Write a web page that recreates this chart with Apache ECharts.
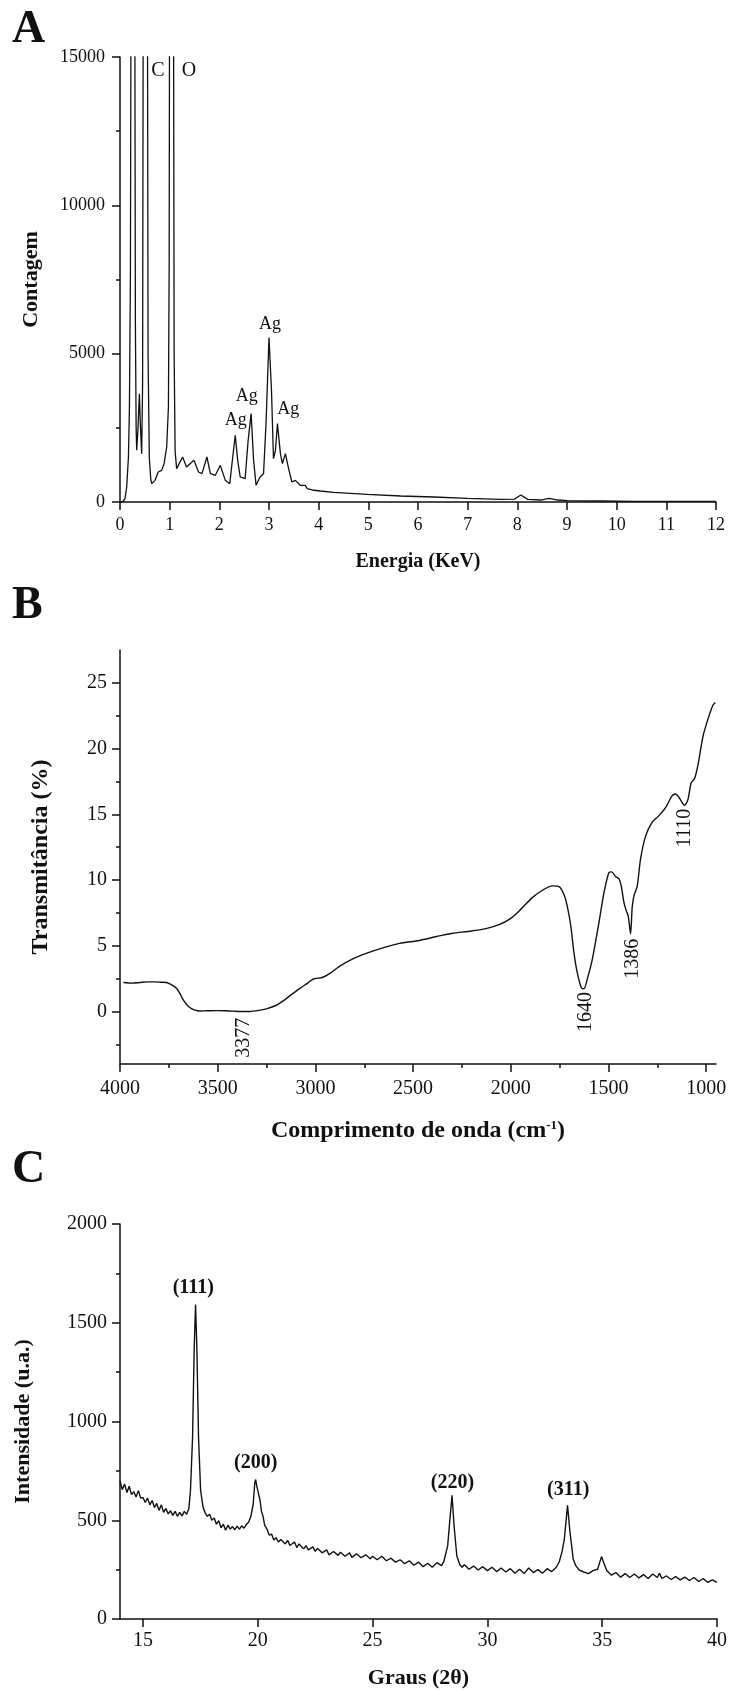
<!DOCTYPE html>
<html>
<head>
<meta charset="utf-8">
<script src="https://cdn.jsdelivr.net/npm/echarts@6/dist/echarts.min.js"></script>
<style>
html, body { margin: 0; padding: 0; background: #fff; }
#chart { width: 731px; height: 1690px; }
</style>
</head>
<body>
<div id="chart"></div>
<script>
// ---- A: EDS spectrum (keV / counts) ----
const edsEnergy = [0, 0.05, 0.1, 0.135, 0.17, 0.19, 0.21, 0.225, 0.26, 0.295, 0.31, 0.325, 0.336, 0.36, 0.39, 0.41, 0.437,
    0.455, 0.47, 0.51, 0.55, 0.565, 0.59, 0.62, 0.64, 0.706, 0.77, 0.84, 0.888, 0.94, 0.975, 0.99, 1.0, 1.035, 1.075,
    1.09, 1.11, 1.14, 1.18, 1.26, 1.34, 1.41, 1.49, 1.58, 1.65, 1.75, 1.82, 1.92, 2.02, 2.12, 2.21, 2.27, 2.32, 2.37,
    2.42, 2.52, 2.58, 2.64, 2.69, 2.74, 2.82, 2.89, 2.94, 3.0, 3.05, 3.09, 3.13, 3.17, 3.23, 3.27, 3.33, 3.38, 3.46,
    3.53, 3.63, 3.73, 3.77, 3.87, 4.03, 4.3, 4.98, 5.65, 6.32, 7.0, 7.67, 7.94, 8.07, 8.21, 8.47, 8.64, 8.81, 9.01,
    9.68, 10.36, 11.03, 12.0];
const edsCounts = [0, 0, 110, 505, 1517, 3200, 7700, 20000, 40000, 20000, 6000, 2500, 1742, 2400, 3650, 2600, 1630,
    4000, 20000, 40000, 20000, 5000, 1500, 750, 618, 730, 1011, 1067, 1292, 1854, 3200, 8000, 20000, 40000, 20000,
    5000, 1700, 1124, 1067, 1517, 1180, 1292, 1405, 1011, 955, 1517, 955, 899, 1236, 730, 618, 1517, 2247, 1405,
    843, 787, 2079, 2978, 1405, 562, 843, 955, 2641, 5540, 3764, 1461, 1742, 2641, 1630, 1292, 1630, 1236, 674,
    730, 563, 563, 450, 405, 371, 327, 260, 202, 169, 124, 90, 98, 236, 90, 67, 124, 67, 45,
    34, 22, 22, 20];
const edsElementNotes = [[0.765, 14530, 'C'], [1.39, 14530, 'O']];
const edsAgNotes = [[2.33, 2764, 'Ag'], [2.55, 3573, 'Ag'], [3.02, 6000, 'Ag'], [3.39, 3135, 'Ag']];

// ---- B: FTIR (cm-1 / %T) ----
const irWavenumber = [3983, 3940, 3898, 3860, 3821, 3790, 3762, 3745, 3727, 3710, 3693, 3677, 3660, 3643, 3620, 3591,
    3550, 3500, 3464, 3420, 3377, 3336, 3290, 3251, 3200, 3165, 3132, 3081, 3040, 3013, 2962, 2928, 2877, 2809, 2740,
    2655, 2570, 2468, 2380, 2298, 2210, 2127, 2060, 2008, 1957, 1890, 1838, 1787, 1753, 1728, 1711, 1693, 1677, 1660,
    1639, 1626, 1609, 1583, 1549, 1523, 1498, 1484, 1464, 1447, 1435, 1421, 1409, 1399, 1387, 1379, 1370, 1353, 1336,
    1310, 1277, 1242, 1208, 1175, 1157, 1140, 1128, 1111, 1094, 1077, 1060, 1043, 1017, 992, 966, 953];
const irTransmittance = [2.2, 2.15, 2.2, 2.25, 2.25, 2.22, 2.2, 2.1, 1.95, 1.75, 1.35, 0.9, 0.55, 0.3, 0.12, 0.03,
    0.05, 0.06, 0.05, 0.02, 0.0, 0.0, 0.08, 0.2, 0.47, 0.8, 1.18, 1.74, 2.15, 2.45, 2.6, 2.87, 3.43, 4.0, 4.42,
    4.84, 5.18, 5.4, 5.7, 5.95, 6.1, 6.3, 6.6, 7.0, 7.65, 8.66, 9.22, 9.55, 9.5, 8.9, 8.0, 6.5, 4.47, 2.95,
    1.8, 1.72, 2.44, 3.96, 6.76, 9.05, 10.57, 10.62, 10.27, 10.1, 9.55, 8.28, 7.65, 7.26, 5.9, 7.9, 8.79, 9.55, 11.6,
    13.36, 14.38, 14.9, 15.5, 16.4, 16.54, 16.3, 16.0, 15.68, 16.1, 17.4, 17.7, 18.7, 20.9, 22.2, 23.3, 23.5];
const irNotes = [[3369, -2.0, '3377'], [1617, -0.05, '1640'], [1378, 4.0, '1386'], [1110, 13.95, '1110']];
const irTicks = [1000, 1500, 2000, 2500, 3000, 3500, 4000];
const irMinorTicks = [1250, 1750, 2250, 2750, 3250, 3750];
const irYTicks = [0, 5, 10, 15, 20, 25];
const irYMinorTicks = [-2.5, 2.5, 7.5, 12.5, 17.5, 22.5];

// ---- C: XRD (2theta / intensity) ----
const xrdAngle = [14.0, 14.1, 14.2, 14.3, 14.4, 14.5, 14.6, 14.7, 14.8, 14.9, 15.0, 15.1, 15.2, 15.3, 15.4, 15.5,
    15.6, 15.7, 15.8, 15.9, 16.0, 16.1, 16.2, 16.3, 16.4, 16.5, 16.6, 16.7, 16.8, 16.9, 17.0, 17.07, 17.16, 17.23,
    17.29, 17.35, 17.42, 17.51, 17.62, 17.7, 17.8, 17.9, 18.0, 18.1, 18.2, 18.3, 18.4, 18.5, 18.6, 18.7, 18.8, 18.9,
    19.0, 19.1, 19.2, 19.3, 19.4, 19.5, 19.6, 19.7, 19.8, 19.87, 19.91, 19.96, 20.03, 20.1, 20.16, 20.23, 20.3, 20.4,
    20.5, 20.6, 20.7, 20.8, 20.9, 21.0, 21.2, 21.3, 21.4, 21.6, 21.7, 21.8, 22.0, 22.1, 22.2, 22.4, 22.5, 22.6, 22.8,
    23.0, 23.1, 23.3, 23.5, 23.6, 23.8, 24.0, 24.1, 24.3, 24.5, 24.7, 24.9, 25.0, 25.2, 25.4, 25.6, 25.8, 26.0, 26.2,
    26.4, 26.6, 26.8, 27.0, 27.2, 27.4, 27.6, 27.8, 28.0, 28.1, 28.27, 28.38, 28.46, 28.55, 28.67, 28.8, 28.9, 29.0,
    29.2, 29.4, 29.6, 29.8, 30.0, 30.2, 30.4, 30.6, 30.8, 31.0, 31.2, 31.4, 31.6, 31.8, 32.0, 32.2, 32.4, 32.6, 32.8,
    33.0, 33.13, 33.25, 33.35, 33.49, 33.6, 33.74, 33.85, 34.0, 34.2, 34.4, 34.6, 34.8, 34.97, 35.1, 35.2, 35.4, 35.6,
    35.8, 36.0, 36.2, 36.4, 36.6, 36.8, 37.0, 37.2, 37.4, 37.5, 37.6, 37.8, 38.0, 38.2, 38.4, 38.6, 38.8, 39.0, 39.2,
    39.4, 39.6, 39.8, 40.0];
const xrdIntensity = [700, 655, 684, 640, 672, 630, 645, 618, 650, 612, 615, 590, 612, 578, 600, 565,
    585, 550, 578, 540, 560, 532, 548, 525, 545, 520, 540, 522, 545, 530, 560, 652, 919, 1362,
    1592, 1362, 919, 652, 564, 540, 520, 530, 500, 512, 480, 498, 462, 480, 450, 475, 455, 468,
    452, 470, 455, 472, 460, 478, 490, 520, 581, 690, 706, 672, 670, 600, 546, 520, 475, 455,
    425, 430, 400, 412, 390, 402, 380, 398, 372, 390, 362, 380, 355, 372, 350, 365, 342, 358, 335,
    350, 325, 342, 322, 338, 318, 335, 312, 330, 310, 325, 305, 318, 300, 318, 295, 308, 288, 300,
    280, 295, 272, 288, 265, 282, 262, 285, 270, 290, 370, 521, 626, 471, 319, 275, 262, 275,
    252, 268, 248, 265, 245, 262, 240, 258, 238, 255, 232, 252, 230, 258, 235, 250, 232, 255, 240,
    262, 290, 340, 403, 575, 437, 302, 270, 248, 238, 230, 245, 252, 316, 275, 245, 222, 235,
    212, 230, 210, 228, 208, 225, 205, 228, 210, 232, 205, 218, 200, 215, 198, 212, 195, 210, 190,
    205, 185, 198, 185];
const xrdNotes = [[17.19, 1677, '(111)'], [19.91, 790, '(200)'], [28.48, 687, '(220)'], [33.52, 652, '(311)']];
const xrdTicks = [15, 20, 25, 30, 35, 40];

const FONT = 'Liberation Serif';
const INK = '#111';

const chart = echarts.init(document.getElementById('chart'));

function pairs(xs, ys) {
    return xs.map((x, i) => [x, ys[i]]);
}

function axis(extra) {
    return Object.assign({
        type: 'value',
        axisLine: { onZero: false, lineStyle: { color: INK, width: 1.5 } },
        axisTick: { length: 8, lineStyle: { color: INK, width: 1.5 } },
        minorTick: { show: false, length: 4, lineStyle: { color: INK, width: 1.5 } },
        axisLabel: { color: INK, fontFamily: FONT, fontSize: 20, formatter: v => String(v) },
        splitLine: { show: false },
        nameLocation: 'middle',
        nameTextStyle: { color: INK, fontFamily: FONT, fontWeight: 'bold', fontSize: 22 },
    }, extra);
}

function tickLabels(size, margin, values) {
    const label = { color: INK, fontFamily: FONT, fontSize: size, margin: margin, formatter: v => String(v) };
    if (values) label.customValues = values;
    return label;
}

// overlay axis that only draws short (minor) ticks
function minorAxis(extra, values) {
    return Object.assign({
        type: 'value',
        axisLine: { show: false, onZero: false },
        axisTick: { length: 4, customValues: values, lineStyle: { color: INK, width: 1.5 } },
        axisLabel: { show: false },
        splitLine: { show: false },
    }, extra);
}

function notes(xi, yi, data, label) {
    return {
        type: 'scatter',
        xAxisIndex: xi,
        yAxisIndex: yi,
        symbolSize: 0,
        silent: true,
        itemStyle: { color: INK, opacity: 1 },
        data: data,
        label: Object.assign({
            show: true,
            position: 'inside',
            color: INK,
            opacity: 1,
            textBorderWidth: 0,
            textBorderColor: 'transparent',
            fontFamily: FONT,
            formatter: p => p.value[2],
        }, label),
    };
}

function letter(text, y) {
    return {
        type: 'text',
        x: 12,
        y: y,
        style: { text: text, font: 'bold 46px "Liberation Serif"', fill: INK, verticalAlign: 'middle' },
    };
}

const option = {
    animation: false,
    textStyle: { fontFamily: FONT },
    graphic: [letter('A', 30), letter('B', 606), letter('C', 1170)],
    grid: [
        { left: 120, top: 57, width: 596, height: 445 },
        { left: 120, top: 650, width: 596, height: 414 },
        { left: 120, top: 1224, width: 597, height: 396 },
    ],
    xAxis: [
        axis({
            gridIndex: 0, position: 'bottom', min: 0, max: 12, interval: 1,
            axisLabel: tickLabels(18, 14),
            name: 'Energia (KeV)', nameGap: 50,
            nameTextStyle: { color: INK, fontFamily: FONT, fontWeight: 'bold', fontSize: 20 },
        }),
        axis({
            gridIndex: 1, position: 'bottom', min: 950, max: 4000, inverse: true,
            axisTick: { length: 8, customValues: irTicks, lineStyle: { color: INK, width: 1.5 } },
            axisLabel: tickLabels(20, 15, irTicks),
            name: '{t|Comprimento de onda (cm}{s|-1}{t|)}', nameGap: 55,
            nameTextStyle: {
                rich: {
                    t: { color: INK, fontFamily: FONT, fontWeight: 'bold', fontSize: 24 },
                    s: { color: INK, fontFamily: FONT, fontWeight: 'bold', fontSize: 13, verticalAlign: 'top' },
                },
            },
        }),
        minorAxis({ gridIndex: 1, position: 'bottom', min: 950, max: 4000, inverse: true }, irMinorTicks),
        axis({
            gridIndex: 2, position: 'bottom', min: 14, max: 40,
            axisTick: { length: 8, customValues: xrdTicks, lineStyle: { color: INK, width: 1.5 } },
            axisLabel: tickLabels(20, 12, xrdTicks),
            name: 'Graus (2θ)', nameGap: 48,
        }),
    ],
    yAxis: [
        axis({
            gridIndex: 0, position: 'left', min: 0, max: 15000, interval: 5000,
            minorTick: { show: true, splitNumber: 2, length: 4, lineStyle: { color: INK, width: 1.5 } },
            axisLabel: tickLabels(18, 15),
            name: 'Contagem', nameGap: 78,
            nameTextStyle: { color: INK, fontFamily: FONT, fontWeight: 'bold', fontSize: 22 },
        }),
        axis({
            gridIndex: 1, position: 'left', min: -4, max: 27.5,
            axisTick: { length: 8, customValues: irYTicks, lineStyle: { color: INK, width: 1.5 } },
            axisLabel: tickLabels(20, 13, irYTicks),
            name: 'Transmitância (%)', nameGap: 67,
            nameTextStyle: { color: INK, fontFamily: FONT, fontWeight: 'bold', fontSize: 24 },
        }),
        minorAxis({ gridIndex: 1, position: 'left', min: -4, max: 27.5 }, irYMinorTicks),
        axis({
            gridIndex: 2, position: 'left', min: 0, max: 2000, interval: 500,
            minorTick: { show: true, splitNumber: 2, length: 4, lineStyle: { color: INK, width: 1.5 } },
            axisLabel: tickLabels(20, 13),
            name: 'Intensidade (u.a.)', nameGap: 86,
        }),
    ],
    series: [
        {
            name: 'EDS',
            type: 'line',
            xAxisIndex: 0,
            yAxisIndex: 0,
            showSymbol: false,
            clip: true,
            lineStyle: { color: INK, width: 1.3 },
            data: pairs(edsEnergy, edsCounts),
        },
        notes(0, 0, edsElementNotes, { fontSize: 20 }),
        notes(0, 0, edsAgNotes, { fontSize: 18 }),
        {
            name: 'FTIR',
            type: 'line',
            xAxisIndex: 1,
            yAxisIndex: 1,
            showSymbol: false,
            smooth: 0.25,
            lineStyle: { color: INK, width: 1.4 },
            data: pairs(irWavenumber, irTransmittance),
        },
        notes(1, 1, irNotes, { fontSize: 20, rotate: 90 }),
        {
            name: 'DRX',
            type: 'line',
            xAxisIndex: 3,
            yAxisIndex: 3,
            showSymbol: false,
            lineStyle: { color: INK, width: 1.4 },
            data: pairs(xrdAngle, xrdIntensity),
        },
        notes(3, 3, xrdNotes, { fontSize: 20, fontWeight: 'bold' }),
    ],
};

chart.setOption(option);
</script>
</body>
</html>
